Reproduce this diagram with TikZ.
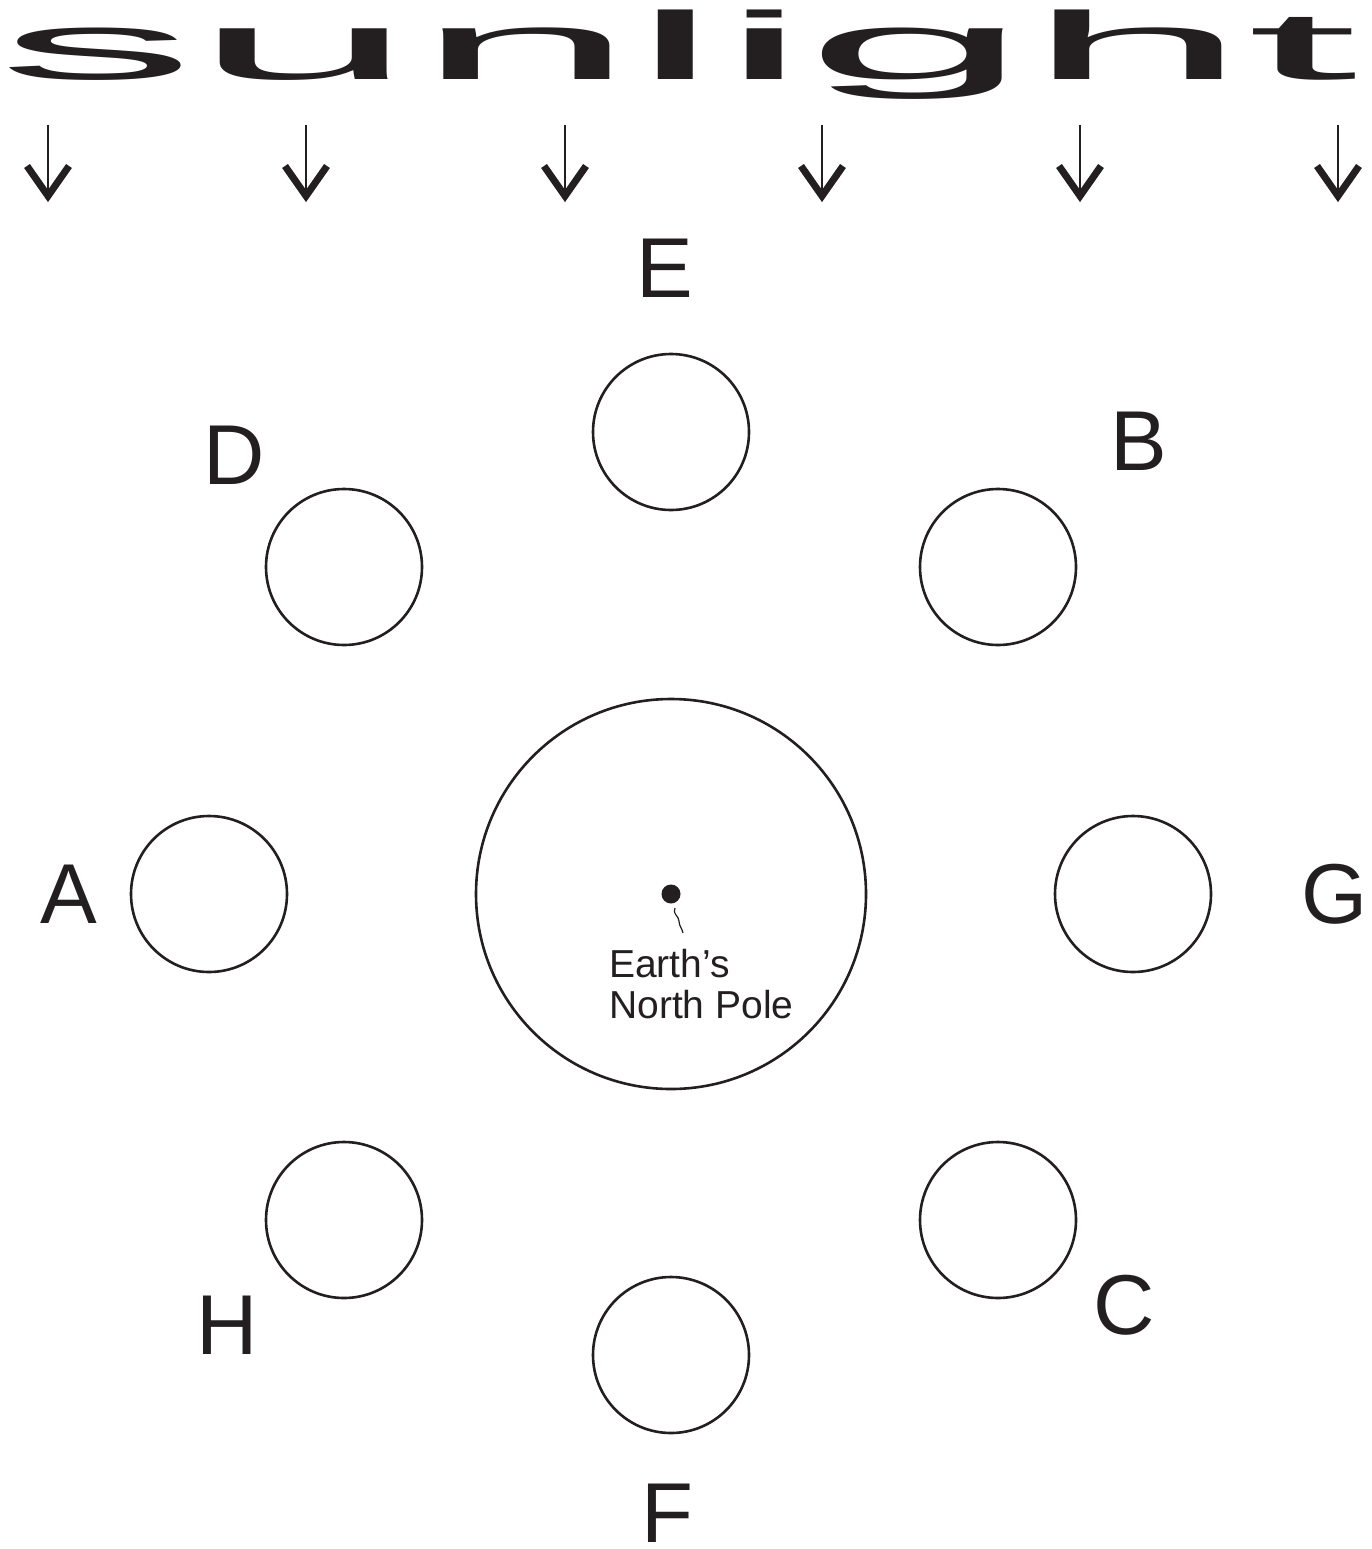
\documentclass[tikz,border=0pt]{standalone}
\usepackage{fontspec}
\usepackage{graphicx}
\setmainfont{Liberation Sans}
\newfontfamily\sunfont{Liberation Sans}
\definecolor{ink}{RGB}{35,31,32}
\begin{document}
\begin{tikzpicture}[x=1pt,y=-1pt,
  orb/.style={circle,draw=ink,line width=2.6pt,inner sep=0,minimum size=#1},
  lab/.style={inner sep=0,text=ink,font=\fontsize{85}{85}\selectfont},
  sunletter/.style={anchor=base west,inner sep=0,text=ink},
  shaft/.style={draw=ink,line width=2.2pt},
  vhead/.style={fill=ink,draw=none}]
\useasboundingbox (0,0) rectangle (1372,1549);
% sunlight
\newcommand{\SL}[4]{\node[sunletter] (#1) at (#2,80) {\scalebox{#3}[1]{\sunfont\fontsize{96}{96}\selectfont #4}};}
\SL{ls}{-2}{4.10}{s}
\SL{lu}{194}{4.12}{u}
\SL{ln}{416}{4.10}{n}
\SL{ll}{631.5}{4.14}{l}
\SL{li}{720.5}{4.14}{i}
\SL{lg}{805}{4.19}{g}
\SL{lh}{1027}{4.12}{h}
\SL{lt}{1247}{4.15}{t}
% arrows
\foreach \i/\x in {1/48,2/306,3/565,4/822,5/1080,6/1338}{
  \coordinate (at\i) at (\x,125);
  \coordinate (ab\i) at (\x,196);
  \draw[shaft] (at\i) -- (ab\i);
  \path[vhead] ([shift={(0,6.1)}]ab\i) -- ([shift={(-23.9,-28)}]ab\i) -- ([shift={(-18.1,-32)}]ab\i)
     -- ([shift={(0,-6.1)}]ab\i) -- ([shift={(18.1,-32)}]ab\i) -- ([shift={(23.9,-28)}]ab\i) -- cycle;
}
% earth
\node[orb=390pt] (earth) at (671,894) {};
\fill[ink] (671,894) circle (9.5);
\node[circle,inner sep=0,minimum size=19pt] (pole) at (671,894) {};
\draw[ink,line width=1.2pt] (675,908) .. controls (672,914) and (679,916) .. (679,921) .. controls (679,926) and (682,928) .. (683,933);
\node[anchor=base west,inner sep=0,text=ink,align=left,font=\fontsize{39}{41}\selectfont] (npl) at (609,1018) {Earth’s\\North Pole};
% moons
\node[orb=156pt] (mE) at (671,432) {};
\node[orb=156pt] (mD) at (344,567) {};
\node[orb=156pt] (mB) at (998,567) {};
\node[orb=156pt] (mA) at (209,894) {};
\node[orb=156pt] (mG) at (1133,894) {};
\node[orb=156pt] (mH) at (344,1220) {};
\node[orb=156pt] (mC) at (998,1220) {};
\node[orb=156pt] (mF) at (671,1355) {};
% labels
\node[lab] (tE) at (665,268) {E};
\node[lab] (tD) at (234,455) {D};
\node[lab] (tB) at (1139,441) {B};
\node[lab] (tA) at (69,894) {A};
\node[lab] (tG) at (1335,894) {G};
\node[lab] (tH) at (227,1325) {H};
\node[lab] (tC) at (1124,1305) {C};
\node[lab] (tF) at (667,1513) {F};
\end{tikzpicture}
\end{document}
